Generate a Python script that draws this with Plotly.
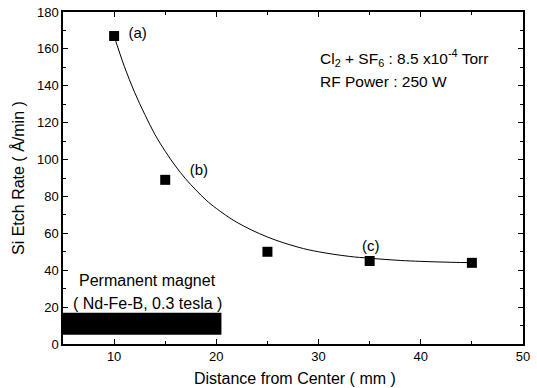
import plotly.graph_objects as go

# Measured data points
dist_mm = [10, 15, 25, 35, 45]
etch_rate = [167, 89, 50, 45, 44]

# Fitted curve
curve_x = [10, 11, 12, 13, 14, 15, 16, 17, 18, 19, 20, 22, 25, 28, 30, 33, 35, 38, 40, 43, 45]
curve_y = [167, 150.5, 136.5, 124.5, 113.5, 104.5, 96.5, 89.5, 83.5, 78, 73.5, 66, 58, 52.5, 50, 47.5, 46.5, 45.3, 44.8, 44.3, 44.1]

# Point labels
label_x = [12.3, 18.3, 35.1]
label_y = [168, 93.5, 52.5]
label_text = ["(a)", "(b)", "(c)"]

# Magnet bar
magnet_x = [5, 20.5]
magnet_y = [5, 17]

x_ticks = [10, 20, 30, 40, 50]
y_ticks = [0, 20, 40, 60, 80, 100, 120, 140, 160, 180]

FONT = "Liberation Sans, Arial, sans-serif"

fig = go.Figure()

fig.add_shape(type="rect", x0=magnet_x[0], x1=magnet_x[1], y0=magnet_y[0], y1=magnet_y[1],
              xref="x", yref="y", fillcolor="black", line=dict(color="black", width=0), layer="below")

fig.add_trace(go.Scatter(x=curve_x, y=curve_y, mode="lines", line=dict(color="black", width=1, shape="spline"),
                         hoverinfo="skip", showlegend=False))
fig.add_trace(go.Scatter(x=dist_mm, y=etch_rate, mode="markers",
                         marker=dict(symbol="square", size=10, color="black"), showlegend=False))
fig.add_trace(go.Scatter(x=label_x, y=label_y, mode="text", text=label_text,
                         textfont=dict(family=FONT, size=15, color="black"), showlegend=False))

fig.add_annotation(x=13.3, y=34.5, xref="x", yref="y", text="Permanent magnet", showarrow=False,
                   font=dict(family=FONT, size=16, color="black"))
fig.add_annotation(x=13.3, y=22, xref="x", yref="y", text="( Nd-Fe-B, 0.3 tesla )", showarrow=False,
                   font=dict(family=FONT, size=16, color="black"))
fig.add_annotation(x=29.9, y=155, xref="x", yref="y", xanchor="left",
                   text="Cl<sub>2</sub> + SF<sub>6</sub> : 8.5 x10<sup>-4</sup> Torr", showarrow=False,
                   font=dict(family=FONT, size=15.5, color="black"))
fig.add_annotation(x=29.9, y=142.5, xref="x", yref="y", xanchor="left",
                   text="RF Power : 250 W", showarrow=False,
                   font=dict(family=FONT, size=15.5, color="black"))

# Axis titles
fig.add_annotation(x=0, y=0.5, xref="paper", yref="paper", xanchor="center", yanchor="middle",
                   xshift=-45, textangle=-90,
                   text="Si Etch Rate ( Å/min )", showarrow=False,
                   font=dict(family=FONT, size=16, color="black"))
fig.add_annotation(x=0.505, y=0, xref="paper", yref="paper", xanchor="center", yanchor="middle",
                   yshift=-34,
                   text="Distance from Center ( mm )", showarrow=False,
                   font=dict(family=FONT, size=16, color="black"))

axis_common = dict(showline=True, linecolor="black", linewidth=1.5, mirror="allticks", ticks="inside",
                   ticklen=5, tickwidth=1, tickcolor="black", showgrid=False, zeroline=False,
                   automargin=False, tickfont=dict(family=FONT, size=13, color="black"))

fig.update_xaxes(range=[5, 50], tickvals=x_ticks,
                 minor=dict(ticks="inside", ticklen=3, dtick=5, tick0=0, tickcolor="black"),
                 **axis_common)
fig.update_yaxes(range=[0, 180], tickvals=y_ticks,
                 minor=dict(ticks="inside", ticklen=3, dtick=10, tick0=0, tickcolor="black"),
                 **axis_common)

fig.update_layout(width=537, height=388, margin=dict(l=63, r=14, t=12, b=44),
                  plot_bgcolor="white", paper_bgcolor="white", showlegend=False)

fig.write_html("out.html")
